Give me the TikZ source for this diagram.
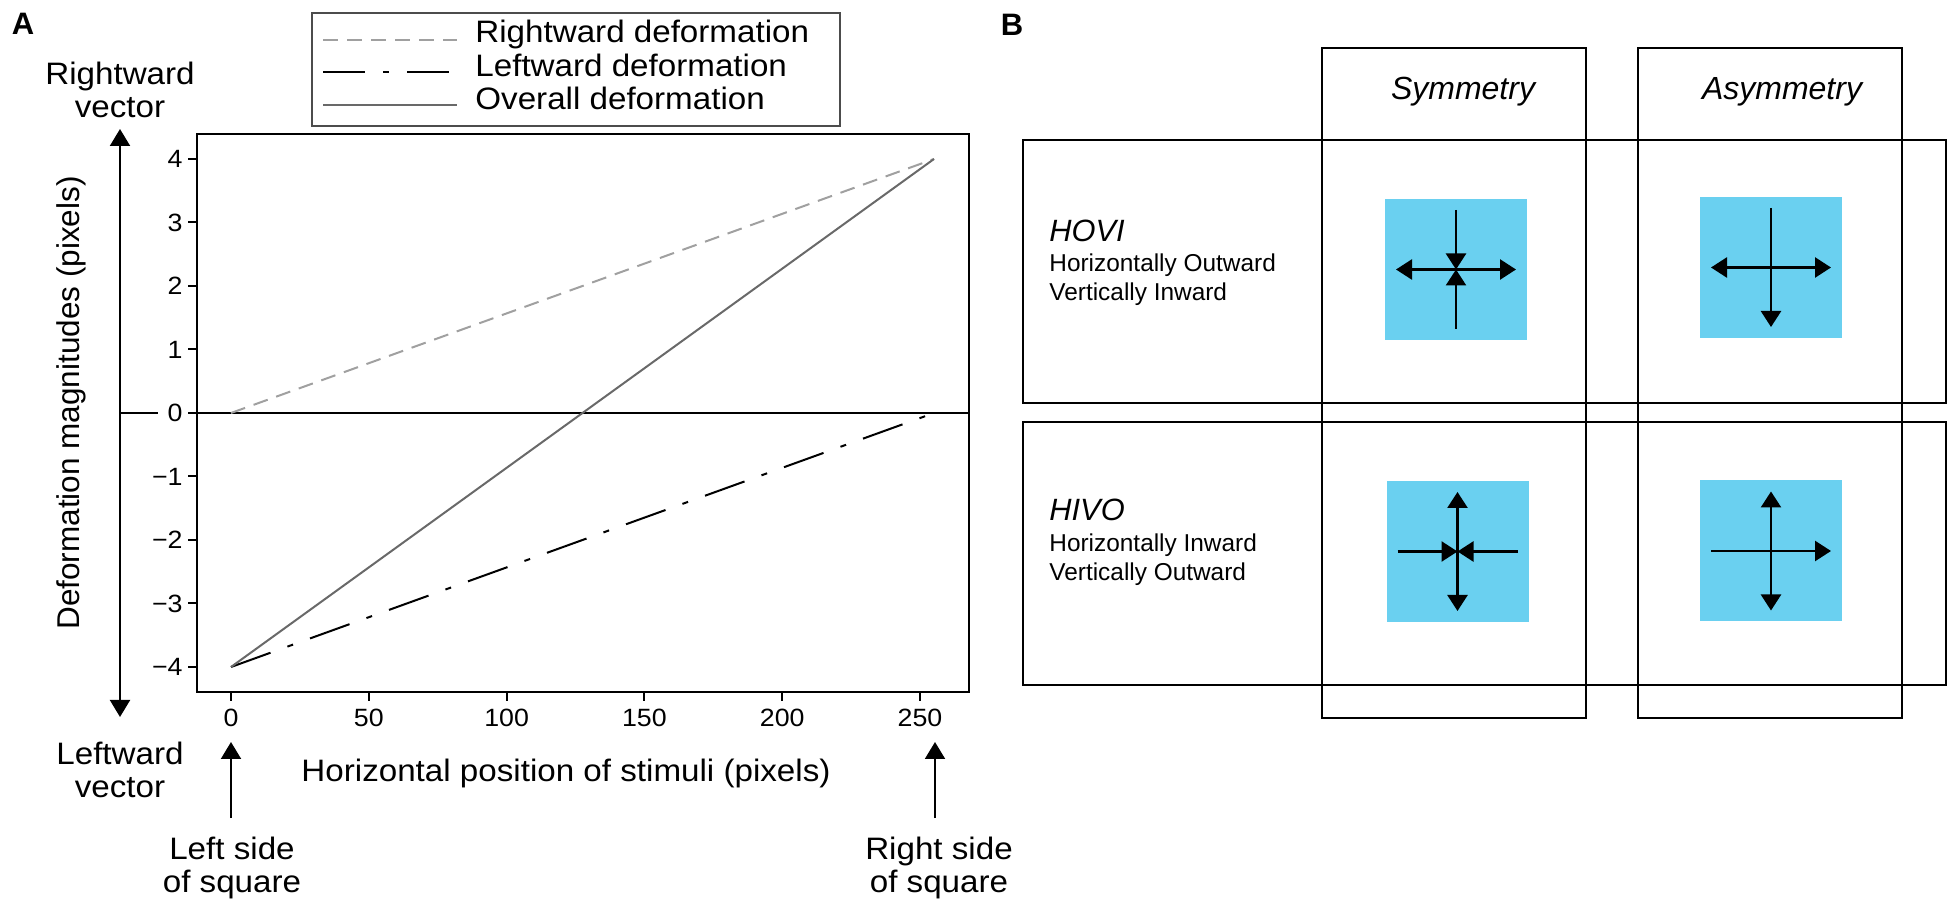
\documentclass[tikz,border=0pt]{standalone}
\usepackage{fontspec}
\setmainfont{Liberation Sans}
\newfontfamily\plotfont[FakeStretch=1.07]{Liberation Sans}
\usetikzlibrary{arrows.meta}

\definecolor{sqblue}{RGB}{106,208,240}
\definecolor{dashgray}{RGB}{160,160,160}
\definecolor{linegray}{RGB}{105,105,105}

\begin{document}
\begin{tikzpicture}[x=0.5pt,y=-0.5pt,
    tri/.tip={Triangle[length=8pt,width=10pt]},
    bigtri/.tip={Triangle[length=8.5pt,width=10pt]},
    panel_lbl/.style={font=\bfseries\fontsize{15.5}{18}\selectfont,inner sep=0pt},
    plot_txt/.style={font=\plotfont\fontsize{15.5}{16.5}\selectfont,inner sep=0pt},
    tick_lbl/.style={font=\plotfont\fontsize{12.5}{14}\selectfont,inner sep=0pt},
    right_line/.style={dashgray,line width=1pt,dash pattern=on 7.5pt off 4.5pt},
    left_line/.style={black,line width=1pt,dash pattern=on 21pt off 9pt on 3pt off 9pt},
    all_line/.style={linegray,line width=1pt},
    head_txt/.style={font=\itshape\fontsize{16}{19}\selectfont,inner sep=0pt},
    row_title/.style={font=\itshape\fontsize{15.4}{18}\selectfont,inner sep=0pt,anchor=base west},
    row_desc/.style={font=\fontsize{12.2}{14}\selectfont,inner sep=0pt,anchor=base west},
    cell_box/.style={draw,line width=1.1pt},
    blue_sq/.style={fill=sqblue,minimum width=71pt,minimum height=70.5pt,inner sep=0pt,outer sep=0pt},
    sq_arrow/.style={line width=1.25pt,shorten <=5.5pt,shorten >=5.5pt},
    in_arrow/.style={line width=1.25pt,shorten <=5.5pt,-tri}]

    \useasboundingbox (0,0) rectangle (1950,908);

    % panel A: the plot
    \node[panel_lbl] (lbl_a) at (23,24) {A};

    % legend
    \draw[black!70,line width=0.6pt] (312,13) rectangle (840,126);
    \coordinate (leg_r0) at (323,40);  \coordinate (leg_r1) at (457,40);
    \coordinate (leg_l0) at (323,72);  \coordinate (leg_l1) at (457,72);
    \coordinate (leg_a0) at (323,105); \coordinate (leg_a1) at (457,105);
    \draw[right_line] (leg_r0) -- (leg_r1);
    \draw[left_line] (leg_l0) -- (leg_l1);
    \draw[all_line] (leg_a0) -- (leg_a1);
    \node[plot_txt,anchor=base west] (leg_rt) at (475,43) {Rightward deformation};
    \node[plot_txt,anchor=base west] (leg_lt) at (475,77) {Leftward deformation};
    \node[plot_txt,anchor=base west] (leg_at) at (475,110) {Overall deformation};

    % axes and ticks
    \draw[line width=1pt] (197,134) rectangle (969,692);
    \foreach \v/\t in {4/4,3/3,2/2,1/1,0/0,-1/−1,-2/−2,-3/−3,-4/−4} {
        \draw[line width=1pt] (188,{413-63.5*\v}) -- (197,{413-63.5*\v});
        \node[tick_lbl,anchor=east] (ytk\v) at (183,{413-63.5*\v}) {\t};
    }
    \foreach \u in {0,50,...,250} {
        \draw[line width=1pt] ({231+2.756*\u},692) -- ({231+2.756*\u},701);
        \node[tick_lbl,anchor=north] (xtk\u) at ({231+2.756*\u},709) {\u};
    }

    % zero line
    \coordinate (z_out) at (120,413); \coordinate (z_lbl) at (158,413);
    \coordinate (z_in0) at (197,413); \coordinate (z_in1) at (969,413);
    \draw[line width=1pt] (z_out) -- (z_lbl);
    \draw[line width=1pt] (z_in0) -- (z_in1);

    % data
    \coordinate (d_r0) at (231,413); \coordinate (d_r1) at (934,159);
    \coordinate (d_l0) at (231,667); \coordinate (d_l1) at (934,413);
    \draw[right_line] (d_r0) -- (d_r1);
    \draw[left_line] (d_l0) -- (d_l1);
    \draw[all_line] (d_l0) -- (d_r1);

    % labels and vector arrows
    \node[font=\fontsize{15.75}{18}\selectfont,inner sep=0pt,rotate=90] (ylab) at (71,403) {Deformation magnitudes (pixels)};
    \node[plot_txt] (xlab) at (566,773) {Horizontal position of stimuli (pixels)};
    \coordinate (v_up) at (120,129); \coordinate (v_dn) at (120,717);
    \draw[line width=1pt,bigtri-bigtri] (v_dn) -- (v_up);
    \node[plot_txt,align=center] (vec_r) at (120,90) {Rightward\\vector};
    \node[plot_txt,align=center] (vec_l) at (120,770) {Leftward\\vector};

    \coordinate (ls_bot) at (231,818); \coordinate (ls_top) at (231,742);
    \coordinate (rs_bot) at (935,818); \coordinate (rs_top) at (935,742);
    \draw[line width=1pt,-bigtri] (ls_bot) -- (ls_top);
    \draw[line width=1pt,-bigtri] (rs_bot) -- (rs_top);
    \node[plot_txt,align=center] (ls_txt) at (232,868) {Left side\\of square};
    \node[plot_txt,align=center] (rs_txt) at (939,868) {Right side\\of square};

    % panel B: the table
    \node[panel_lbl] (lbl_b) at (1012,25) {B};
    \draw[cell_box] (1322,48) rectangle (1586,718);
    \draw[cell_box] (1638,48) rectangle (1902,718);
    \draw[cell_box] (1023,140) rectangle (1946,403);
    \draw[cell_box] (1023,422) rectangle (1946,685);

    \node[head_txt] (h_sym) at (1463,92) {Symmetry};
    \node[head_txt] (h_asym) at (1782,92) {Asymmetry};

    \node[row_title] (hovi) at (1049,242) {HOVI};
    \node[row_desc] (hovi_1) at (1049,272) {Horizontally Outward};
    \node[row_desc] (hovi_2) at (1049,301) {Vertically Inward};
    \node[row_title] (hivo) at (1049,521) {HIVO};
    \node[row_desc] (hivo_1) at (1049,552) {Horizontally Inward};
    \node[row_desc] (hivo_2) at (1049,581) {Vertically Outward};

    \node[blue_sq] (sq_hovi_s) at (1456,269.5) {};
    \node[blue_sq] (sq_hovi_a) at (1771,267.5) {};
    \node[blue_sq] (sq_hivo_s) at (1457.5,551.5) {};
    \node[blue_sq] (sq_hivo_a) at (1771,551) {};

    \draw[sq_arrow,tri-tri] (sq_hovi_s.west) -- (sq_hovi_s.east);
    \draw[in_arrow] (sq_hovi_s.north) -- (sq_hovi_s.center);
    \draw[in_arrow] (sq_hovi_s.south) -- (sq_hovi_s.center);

    \draw[sq_arrow,tri-tri] (sq_hovi_a.west) -- (sq_hovi_a.east);
    \draw[sq_arrow,-tri] (sq_hovi_a.north) -- (sq_hovi_a.south);

    \draw[sq_arrow,tri-tri] (sq_hivo_s.north) -- (sq_hivo_s.south);
    \draw[in_arrow] (sq_hivo_s.west) -- (sq_hivo_s.center);
    \draw[in_arrow] (sq_hivo_s.east) -- (sq_hivo_s.center);

    \draw[sq_arrow,tri-tri] (sq_hivo_a.north) -- (sq_hivo_a.south);
    \draw[sq_arrow,-tri] (sq_hivo_a.west) -- (sq_hivo_a.east);
\end{tikzpicture}
\end{document}
